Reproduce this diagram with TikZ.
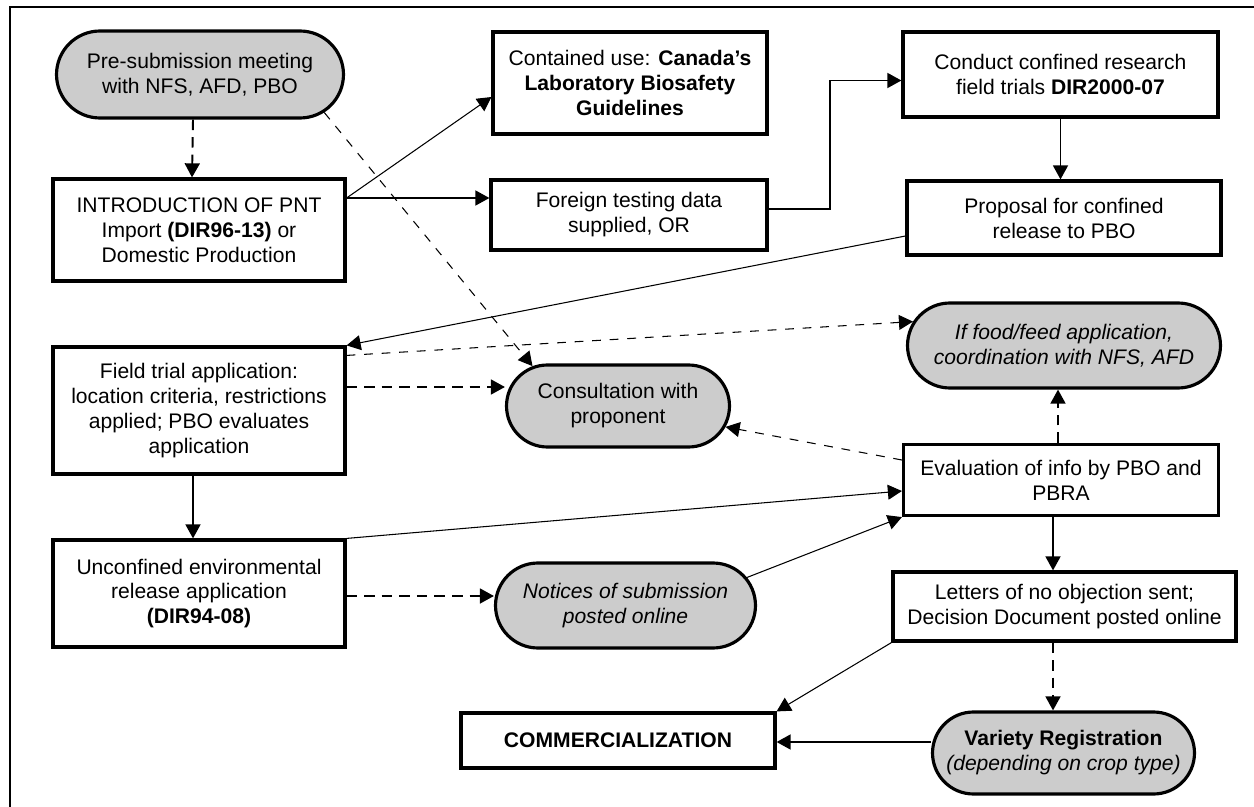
\documentclass[tikz,border=0pt]{standalone}
\usepackage{fontspec}
\setmainfont{Liberation Sans}
\usetikzlibrary{arrows.meta,calc,shapes.misc}
\definecolor{inkBlack}{RGB}{0,0,0}
\definecolor{capsuleGray}{RGB}{204,204,204}

\begin{document}
\begin{tikzpicture}[
    font=\fontsize{12pt}{14.2pt}\selectfont,
    stepbox/.style={draw=inkBlack, fill=white, line width=1.8pt, align=center, inner sep=2pt},
    capsule/.style={rounded rectangle, draw=inkBlack, fill=capsuleGray, line width=1.8pt, align=center, inner sep=2pt},
    flow/.style={-{Triangle[length=8pt, width=8.5pt]}, line width=1.1pt},
    flowthin/.style={-{Triangle[length=8pt, width=8.5pt]}, line width=0.6pt},
    dashflow/.style={flow, dash pattern=on 6pt off 4pt},
    dashthin/.style={flowthin, dash pattern=on 5pt off 5pt}
  ]
      \useasboundingbox (0,0) rectangle (25.08,-16.14);
      \draw[line width=1.1pt, color=inkBlack] (0.2,-16.14) -- (0.2,-0.14) -- (25.08,-0.14);

      \node (preSubmission) [capsule, minimum width=5.88cm, minimum height=1.74cm] at (4.0,-1.49) {
          Pre-submission meeting\\with NFS, AFD, PBO};
      \node (introPnt) [stepbox, minimum width=5.84cm, minimum height=2.04cm] at (3.98,-4.6) {
          INTRODUCTION OF PNT\\Import \textbf{(DIR96-13)} or\\Domestic Production};
      \node (containedUse) [stepbox, minimum width=5.48cm, minimum height=2.04cm] at (12.6,-1.66) {
          Contained use: \textbf{Canada’s}\\\textbf{Laboratory Biosafety}\\\textbf{Guidelines}};
      \node (foreignData) [stepbox, minimum width=5.52cm, minimum height=1.4cm] at (12.58,-4.3) {
          Foreign testing data\\supplied, OR};
      \node (confinedTrials) [stepbox, minimum width=6.3cm, minimum height=1.7cm] at (21.21,-1.49) {
          Conduct confined research\\field trials \textbf{DIR2000-07}};
      \node (proposal) [stepbox, minimum width=6.28cm, minimum height=1.48cm] at (21.28,-4.36) {
          Proposal for confined\\release to PBO};

      \node (fieldTrial) [stepbox, minimum width=5.84cm, minimum height=2.54cm] at (3.98,-8.21) {
          Field trial application:\\location criteria, restrictions\\applied; PBO evaluates\\application};
      \node (consultation) [capsule, minimum width=4.6cm, minimum height=1.64cm] at (12.36,-8.12) {
          Consultation with\\proponent};
      \node (foodFeed) [capsule, minimum width=6.4cm, minimum height=1.7cm] at (21.28,-6.91) {
          \textit{If food/feed application,}\\\textit{coordination with NFS, AFD}};
      \node (evaluation) [stepbox, minimum width=6.3cm, minimum height=1.42cm] at (21.22,-9.6) {
          Evaluation of info by PBO and\\PBRA};

      \node (unconfined) [stepbox, minimum width=5.84cm, minimum height=2.14cm] at (3.98,-11.87) {
          Unconfined environmental\\release application\\\textbf{(DIR94-08)}};
      \node (notices) [capsule, minimum width=5.34cm, minimum height=1.7cm] at (12.51,-12.11) {
          \textit{Notices of submission}\\\textit{posted online}};
      \node (letters) [stepbox, minimum width=6.86cm, minimum height=1.38cm] at (21.29,-12.13) {
          Letters of no objection sent;\\Decision Document posted online};
      \node (commercial) [stepbox, minimum width=6.28cm, minimum height=1.1cm] at (12.36,-14.81) {
          \textbf{COMMERCIALIZATION}};
      \node (variety) [capsule, minimum width=5.38cm, minimum height=1.64cm] at (21.27,-15.06) {
          \textbf{Variety Registration}\\\textit{(depending on crop type)}};

      \draw[dashflow] ([xshift=-0.14cm]preSubmission.south) -- ([xshift=-0.14cm]introPnt.north);
      \draw[dashthin] (preSubmission.-17) -- (consultation.155);
      \draw[flowthin] ([yshift=0.64cm]introPnt.east) -- ([yshift=-0.28cm]containedUse.west);
      \draw[flow] ([yshift=0.64cm]introPnt.east) coordinate (introOut) -- (introOut -| foreignData.west);
      \draw[flow] ([yshift=0.12cm]foreignData.east) -- ++(1.22,0) |- ([yshift=-0.12cm]confinedTrials.west);
      \draw[flow] (confinedTrials.south) -- (confinedTrials.south |- proposal.north);
      \draw[flowthin] ([yshift=-0.36cm]proposal.west) -- (fieldTrial.north east);
      \draw[dashthin] ([yshift=-0.2cm]fieldTrial.north east) -- (foodFeed.171);
      \draw[dashflow] ([yshift=0.47cm]fieldTrial.east) coordinate (fieldOut) -- (fieldOut -| consultation.west);
      \draw[flow] ([xshift=-0.12cm]fieldTrial.south) -- ([xshift=-0.12cm]unconfined.north);
      \draw[flowthin] (unconfined.north east) -- ([yshift=-0.22cm]evaluation.west);
      \draw[dashflow] ([yshift=-0.05cm]unconfined.east) coordinate (unconfOut) -- (unconfOut -| notices.west);
      \draw[flowthin] (notices.13) -- (evaluation.south west);
      \draw[dashthin] ([yshift=0.4cm]evaluation.west) -- (consultation.-11);
      \draw[dashflow] ([xshift=-0.06cm]evaluation.north) coordinate (evalUp) -- (evalUp |- foodFeed.south);
      \draw[flow] ([xshift=-0.16cm]evaluation.south) coordinate (evalOut) -- (evalOut |- letters.north);
      \draw[flowthin] (letters.south west) -- (commercial.north east);
      \draw[dashflow] (evalOut |- letters.south) -- (evalOut |- variety.north);
      \draw[flow] ([yshift=0.22cm]variety.west) coordinate (varietyOut) -- (varietyOut -| commercial.east);
  \end{tikzpicture}
\end{document}
